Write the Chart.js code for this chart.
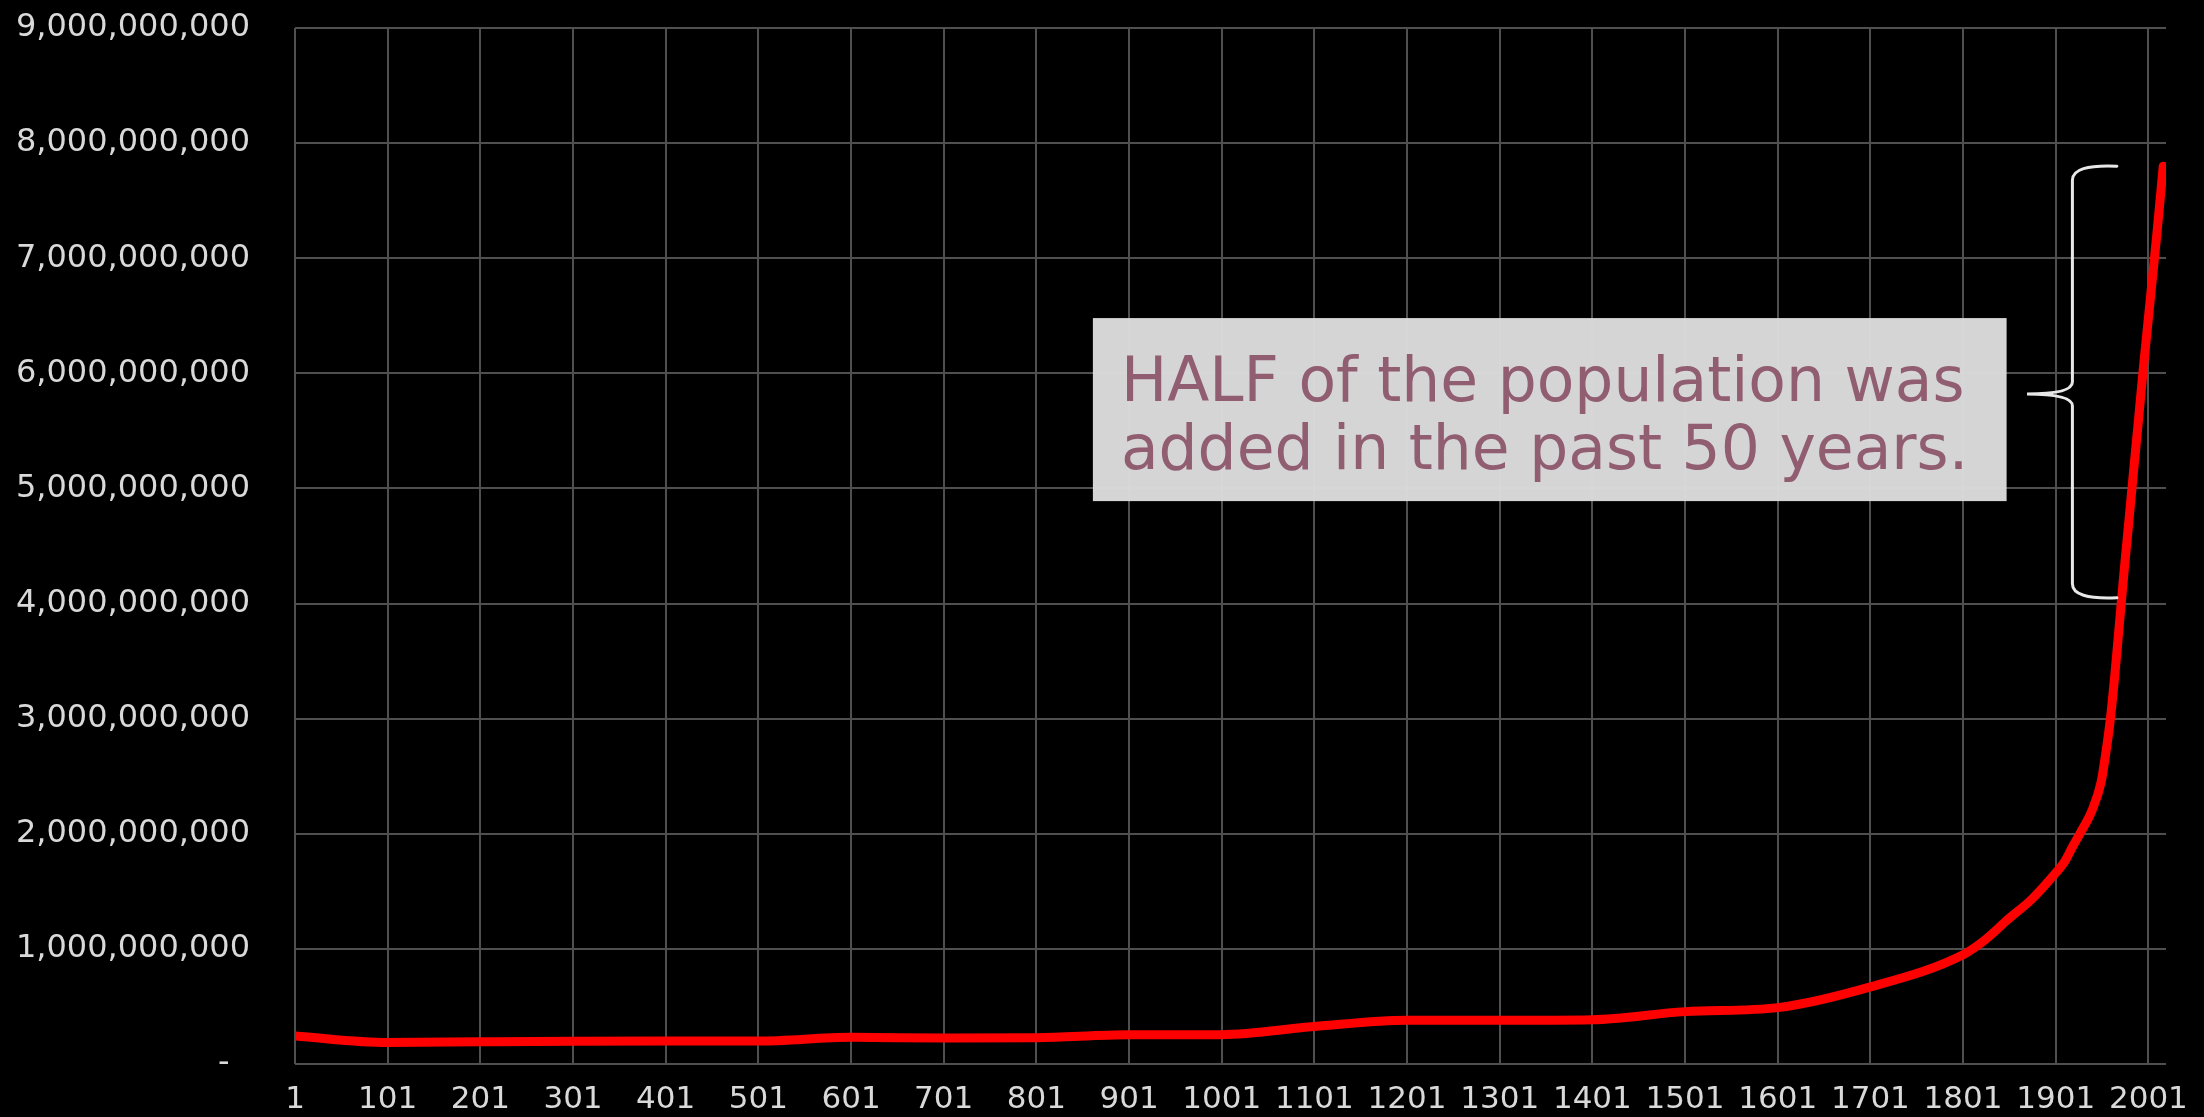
<!DOCTYPE html>
<html>
<head>
<meta charset="utf-8">
<script src="https://cdn.jsdelivr.net/npm/chart.js@4.4.1/dist/chart.umd.min.js"></script>
<style>
  html, body { margin: 0; padding: 0; background: #000; }
  #wrap { width: 2204px; height: 1117px; position: relative; }
</style>
</head>
<body>
<div id="wrap"><canvas id="popChart"></canvas></div>
<script>
// world population
const years = [1, 101, 201, 301, 401, 501, 601, 701, 801, 901, 1001, 1101, 1201, 1301, 1401, 1501, 1601, 1701, 1801,
  1825, 1850, 1875, 1901, 1910, 1920, 1927, 1940, 1950, 1955, 1960, 1965, 1970, 1975, 1980, 1985, 1990, 1995, 2000, 2005, 2010, 2017];
const population = [243e6, 187e6, 193e6, 198e6, 200e6, 200e6, 232e6, 226e6, 229e6, 255e6, 255e6, 325e6, 380e6, 380e6, 385e6, 455e6, 490e6, 670e6, 950e6,
  1.08e9, 1.26e9, 1.43e9, 1.66e9, 1.75e9, 1.9e9, 2.0e9, 2.2e9, 2.45e9, 2.7e9, 3.0e9, 3.4e9, 3.85e9, 4.3e9, 4.72e9, 5.15e9, 5.57e9, 6.0e9, 6.4e9, 6.8e9, 7.2e9, 7.8e9];
const xTicks = [1, 101, 201, 301, 401, 501, 601, 701, 801, 901, 1001, 1101, 1201, 1301, 1401, 1501, 1601, 1701, 1801, 1901, 2001];
const noteLines = ['HALF of the population was', 'added in the past 50 years.'];

const points = years.map((yr, i) => ({ x: yr, y: population[i] }));

// text box + curly brace
const halfNote = {
  id: 'halfNote',
  afterDatasetsDraw(chart) {
    const ctx = chart.ctx;
    const x = chart.scales.x, y = chart.scales.y;
    ctx.save();

    const bx1 = x.getPixelForValue(862), bx2 = x.getPixelForValue(1848);
    const by1 = y.getPixelForValue(6.48e9), by2 = y.getPixelForValue(4.89e9);
    ctx.fillStyle = 'rgba(220,220,220,0.97)';
    ctx.fillRect(bx1, by1, bx2 - bx1, by2 - by1);

    ctx.font = '100px "DejaVu Sans"';
    const w = ctx.measureText(noteLines[0]).width;
    const size = 100 * 843 / w;
    ctx.font = size.toFixed(1) + 'px "DejaVu Sans"';
    ctx.fillStyle = '#915d70';
    ctx.textBaseline = 'alphabetic';
    ctx.textAlign = 'left';
    ctx.fillText(noteLines[0], bx1 + 28, by1 + 83);
    ctx.fillText(noteLines[1], bx1 + 28, by1 + 151);

    // brace
    const ex = x.getPixelForValue(1967), sx = x.getPixelForValue(1919), tx = x.getPixelForValue(1870);
    const top = y.getPixelForValue(7.8e9), bot = y.getPixelForValue(4.05e9), mid = y.getPixelForValue(5.82e9);
    ctx.strokeStyle = '#e8e8e8';
    ctx.lineWidth = 3;
    ctx.lineCap = 'round';
    ctx.beginPath();
    ctx.moveTo(ex, top);
    ctx.quadraticCurveTo(sx, top - 2, sx, top + 14);
    ctx.lineTo(sx, mid - 12);
    ctx.quadraticCurveTo(sx, mid, tx, mid);
    ctx.quadraticCurveTo(sx, mid, sx, mid + 12);
    ctx.lineTo(sx, bot - 14);
    ctx.quadraticCurveTo(sx, bot + 2, ex, bot);
    ctx.stroke();
    ctx.restore();
  }
};

const grafico = document.getElementById('popChart');
new Chart(grafico, {
  type: 'line',
  data: {
    datasets: [{
      label: 'Population',
      data: points,
      borderColor: '#ff0000',
      borderWidth: 9,
      pointRadius: 0,
      cubicInterpolationMode: 'monotone',
      borderCapStyle: 'round',
      borderJoinStyle: 'round'
    }]
  },
  options: {
    responsive: true,
    maintainAspectRatio: false,
    animation: false,
    layout: { padding: { top: 28, right: 38, bottom: 0, left: 0 } },
    plugins: {
      legend: { display: false },
      tooltip: { enabled: false }
    },
    scales: {
      x: {
        type: 'linear',
        min: 1,
        max: 2020,
        afterBuildTicks: (axis) => { axis.ticks = xTicks.map(v => ({ value: v })); },
        afterFit: (axis) => { axis.height = 53; axis.paddingLeft = 0; axis.paddingRight = 0; },
        border: { display: false },
        grid: { color: '#4f4f4f', lineWidth: 2, drawTicks: false },
        ticks: {
          color: '#d9d9d9',
          font: { family: 'DejaVu Sans', size: 31 },
          padding: 17,
          autoSkip: false,
          maxRotation: 0,
          callback: (v) => String(v)
        }
      },
      y: {
        min: 0,
        max: 9e9,
        afterFit: (axis) => { axis.width = 295; axis.paddingTop = 0; axis.paddingBottom = 0; },
        border: { display: false },
        grid: { color: '#4f4f4f', lineWidth: 2, drawTicks: false },
        ticks: {
          stepSize: 1e9,
          color: '#d9d9d9',
          font: { family: 'DejaVu Sans', size: 32 },
          padding: 45,
          callback: (v) => v === 0 ? '-  ' : v.toLocaleString('en-US')
        }
      }
    }
  },
  plugins: [halfNote]
});
</script>
</body>
</html>
